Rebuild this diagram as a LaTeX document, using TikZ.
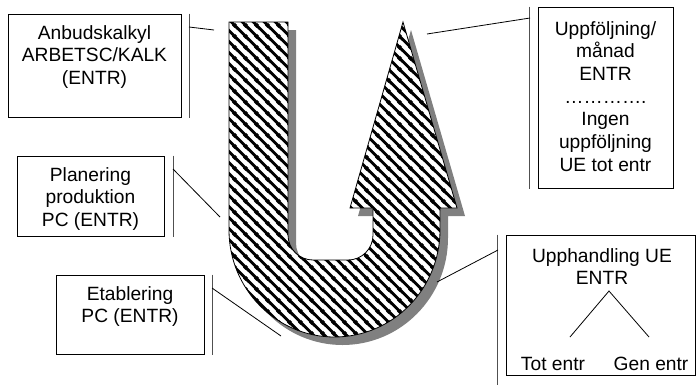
\documentclass[tikz,border=0pt]{standalone}
\usepackage{fontspec}
\setmainfont{Liberation Sans}
\usetikzlibrary{patterns,shadows,fit,positioning}
\definecolor{shadowgray}{RGB}{128,128,128}
\definecolor{bargray}{RGB}{80,80,80}

\pgfdeclarepatternformonly{thickstripes}{\pgfqpoint{0pt}{0pt}}{\pgfqpoint{8pt}{8pt}}{\pgfqpoint{8pt}{8pt}}{%
  \pgfsetlinewidth{2.3pt}
  \pgfpathmoveto{\pgfqpoint{-1pt}{9pt}}\pgfpathlineto{\pgfqpoint{9pt}{-1pt}}
  \pgfpathmoveto{\pgfqpoint{-1pt}{1pt}}\pgfpathlineto{\pgfqpoint{1pt}{-1pt}}
  \pgfpathmoveto{\pgfqpoint{7pt}{9pt}}\pgfpathlineto{\pgfqpoint{9pt}{7pt}}
  \pgfusepath{stroke}}

\begin{document}
\begin{tikzpicture}[x=0.75pt, y=-0.75pt, font=\fontsize{14.4}{17}\selectfont,
  box/.style={draw=black, line width=0.75pt, inner sep=0pt},
  txt/.style={align=center, inner sep=0pt, anchor=north},
  bar/.style={draw=bargray, line width=1pt},
  leader/.style={draw=black, line width=0.6pt}]
\useasboundingbox (0,0) rectangle (696,386);

% U-pilen
\draw[line width=0.6pt, drop shadow={shadow xshift=6pt, shadow yshift=-6pt, fill=shadowgray, opacity=1},
  preaction={fill=white}, pattern=thickstripes]
  (229,22) -- (288,22) -- (288,235) arc (180:90:25) -- (348,260) arc (90:0:25)
  -- (373,208) -- (350,208) -- (403,22) -- (457,208) -- (440,208) -- (440,230)
  arc (0:180:105.5 and 107) -- cycle;

% rutor
\node[box, fit={(8,14) (181,117)}] (anbud) {};
\node[box, fit={(538,7) (673,188)}] (uppf) {};
\node[box, fit={(17,156) (164,236)}] (plan) {};
\node[box, fit={(56,275) (204,354)}] (etab) {};
\node[box, fit={(506,235) (695,375)}] (upph) {};

\node[txt] (anbudtxt) at (94.5,25) {Anbudskalkyl\\ARBETSC/KALK\\(ENTR)};
\node[txt] (uppftxt) at (605.5,21) {Uppföljning/\\månad\\ENTR\\…………. \\Ingen\\uppföljning\\UE tot entr};
\node[txt] (plantxt) at (90.5,167) {Planering\\produktion\\PC (ENTR)};
\node[txt] (etabtxt) at (130,286) {Etablering\\PC (ENTR)};
\node[txt] (upphtxt) at (602,248) {Upphandling UE\\ENTR};
\node[anchor=base, inner sep=0pt] (tot) at (553,370) {Tot entr};
\node[anchor=base, inner sep=0pt] (gen) at (651,370) {Gen entr};

% linjer
\draw[bar] ([xshift=6pt]anbud.north east) -- ([xshift=6pt]anbud.south east);
\draw[bar] ([xshift=-6pt]uppf.north west) -- ([xshift=-6pt]uppf.south west);
\draw[bar] ([xshift=6.75pt]plan.north east) -- ([xshift=6.75pt]plan.south east);
\draw[bar] ([xshift=6pt]etab.north east) -- ([xshift=6pt]etab.south east);
\draw[bar] ([xshift=-6pt]upph.north west) -- ++(0,150);

\coordinate (a1) at (189,27);  \coordinate (a2) at (214,30);
\coordinate (u1) at (530,18);  \coordinate (u2) at (427,34);
\coordinate (p1) at (173,169); \coordinate (p2) at (220,217);
\coordinate (e1) at (212,288); \coordinate (e2) at (281,336);
\coordinate (h1) at (498,250); \coordinate (h2) at (437,282);
\draw[leader] (a1) -- (a2);
\draw[leader] (u1) -- (u2);
\draw[leader] (p1) -- (p2);
\draw[leader] (e1) -- (e2);
\draw[leader] (h1) -- (h2);

\coordinate (fork) at (609,291);
\coordinate (totend) at (570,337);
\coordinate (genend) at (649,337);
\draw[leader] (totend) -- (fork) -- (genend);
\end{tikzpicture}
\end{document}
